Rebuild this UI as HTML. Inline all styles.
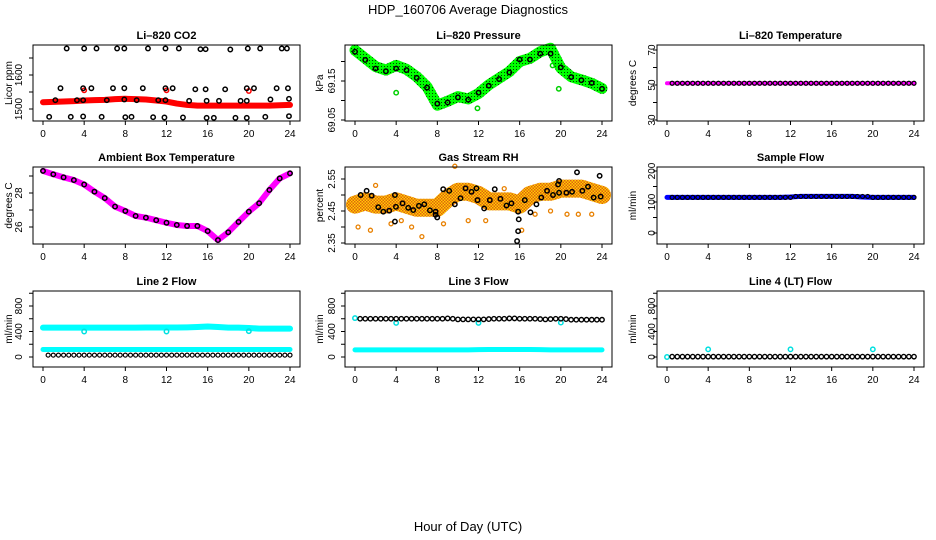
<!DOCTYPE html>
<html><head><meta charset="utf-8"><style>
body{margin:0;background:#fff}
svg{display:block;font-family:"Liberation Sans",sans-serif}
</style></head><body>
<svg id="c" width="936" height="540" viewBox="0 0 936 540">
<defs>
<pattern id="rhpat" width="3" height="3" patternUnits="userSpaceOnUse"><rect width="3" height="3" fill="#ffd000"/><rect width="1.5" height="1.5" fill="#e06010"/><rect x="1.5" y="1.5" width="1.5" height="1.5" fill="#e06010"/></pattern>
<pattern id="prpat" width="3" height="3" patternUnits="userSpaceOnUse"><rect width="3" height="3" fill="#00ff00"/><rect width="1" height="1" fill="#004000"/></pattern>
</defs>
<text x="468" y="14" text-anchor="middle" font-size="13">HDP_160706  Average Diagnostics</text>
<text x="468" y="531" text-anchor="middle" font-size="13">Hour of Day (UTC)</text>
</svg>
<script>
const hours = [0,1,2,3,4,5,6,7,8,9,10,11,12,13,14,15,16,17,18,19,20,21,22,23,24];
const halfH = [0.5,1,1.5,2,2.5,3,3.5,4,4.5,5,5.5,6,6.5,7,7.5,8,8.5,9,9.5,10,10.5,11,11.5,12,12.5,13,13.5,14,14.5,15,15.5,16,16.5,17,17.5,18,18.5,19,19.5,20,20.5,21,21.5,22,22.5,23,23.5,24];
const xTicks = [0,4,8,12,16,20,24];
// CO2
const co2Band = [1520,1521,1522,1523,1525,1526,1527,1529,1530,1529,1528,1525,1522,1516,1512,1510,1510,1510,1510,1510,1510,1510,1510,1511,1512];
const co2CircH = [2.3,4.0,5.2,7.2,7.9,10.2,11.9,13.2,15.3,15.8,18.2,19.9,21.1,23.2,23.7, 1.7,3.9,4.7,6.8,7.9,9.7,11.9,12.6,14.8,15.8,17.7,19.8,20.5,22.7,23.8, 1.2,3.3,3.9,6.2,7.9,9.1,11.2,11.9,14.2,15.9,17.1,19.2,19.8,22.1,23.9, 0.6,2.7,3.9,5.7,8.0,8.6,10.7,11.8,13.6,15.9,16.6,18.7,19.8,21.6,23.9];
const co2CircV = [1678,1678,1678,1678,1678,1678,1678,1678,1676,1676,1675,1678,1678,1678,1678, 1561,1561,1561,1561,1561,1561,1561,1561,1558,1558,1558,1561,1561,1561,1561, 1526,1526,1526,1526,1528,1526,1526,1526,1524,1524,1524,1524,1524,1528,1530, 1477,1477,1478,1477,1476,1477,1476,1475,1475,1474,1474,1474,1474,1477,1479];
const co2RedH = [4,12,20];
const co2RedV = [1555,1555,1553];
// Pressure
const presBand = [69.229,69.208,69.187,69.178,69.19,69.18,69.161,69.135,69.088,69.098,69.11,69.104,69.118,69.14,69.157,69.174,69.2,69.208,69.225,69.234,69.183,69.161,69.153,69.144,69.131];
const presCirc = [69.225,69.204,69.182,69.175,69.182,69.178,69.158,69.133,69.092,69.095,69.108,69.102,69.12,69.138,69.155,69.172,69.205,69.205,69.22,69.22,69.185,69.16,69.152,69.145,69.13];
const presOutH = [4.0,11.9,19.8,19.2];
const presOutV = [69.12,69.08,69.13,69.19];
// Li-820 temp
const tempBand = [51,51,51,51,51,51,51,51,51,51,51,51,51,51,51,51,51,51,51,51,51,51,51,51,51];
const tempCirc = [51,51,51,51,51,51,51,51,51,51,51,51,51,51,51,51,51,51,51,51,51,51,51,51,51,51,51,51,51,51,51,51,51,51,51,51,51,51,51,51,51,51,51,51,51,51,51,51];
// Ambient
const ambBand = [29.3,29.1,28.92,28.76,28.5,28.08,27.7,27.2,26.94,26.65,26.55,26.4,26.25,26.12,26.06,26.06,25.76,25.23,25.69,26.3,26.9,27.4,28.18,28.86,29.16];
// RH
const rhBand = [2.47,2.48,2.47,2.47,2.48,2.47,2.46,2.46,2.46,2.49,2.51,2.51,2.50,2.48,2.48,2.48,2.47,2.50,2.51,2.51,2.52,2.52,2.52,2.51,2.50];
const rhCircH = [0.55,1.13,1.62,2.26,2.75,3.33,3.88,3.88,3.98,4.62,5.17,5.66,6.21,6.73,7.28,7.83,7.83,7.99,8.57,9.15,9.7,10.25,10.74,11.32,11.8,11.9,12.55,13.1,13.58,14.13,14.72,15.2,15.85,15.91,15.85,15.75,16.5,17.05,17.63,18.1,18.66,19.24,19.73,19.83,19.83,20.54,21.09,21.57,22.09,22.64,23.19,23.77,23.87];
const rhCircV = [2.50,2.513,2.498,2.462,2.448,2.451,2.50,2.417,2.463,2.474,2.46,2.453,2.466,2.471,2.452,2.448,2.438,2.43,2.518,2.513,2.471,2.49,2.521,2.51,2.521,2.484,2.458,2.484,2.518,2.488,2.467,2.474,2.448,2.424,2.387,2.356,2.484,2.446,2.471,2.492,2.513,2.50,2.533,2.544,2.507,2.507,2.51,2.571,2.513,2.526,2.492,2.56,2.495];
const rhOutH = [0.3,1.5,3.5,4.5,6.5,9.7,11.0,12.7,14.5,16.2,17.5,19.0,20.6,21.7,23.0,2.0,5.5,8.6];
const rhOutV = [2.40,2.39,2.41,2.42,2.37,2.59,2.42,2.42,2.52,2.39,2.44,2.45,2.44,2.44,2.44,2.53,2.40,2.41];
// Sample flow
const sfBand = [115,115,115,115,115,115,115,115,115,115,115,115,116,118,118,118,118,118,118,116,115,115,115,115,115];
const sfCirc = [115,115,115,115,115,115,115,115,115,115,115,115,115,115,115,115,115,115,115,115,115,115,115,115,118,118,118,118,118,118,118,118,118,118,118,118,118,118,118,115,115,115,115,115,115,115,115,115];
// Line 2
const l2Hi = [460,460,460,460,460,460,460,460,460,460,462,462,462,462,465,470,478,470,460,460,455,445,445,445,445];
const l2Lo = [118,118,118,118,118,118,118,118,118,118,118,118,118,118,118,118,118,118,118,118,118,118,118,118,118];
const l2Black = [30,30,30,30,30,30,30,30,30,30,30,30,30,30,30,30,30,30,30,30,30,30,30,30,30,30,30,30,30,30,30,30,30,30,30,30,30,30,30,30,30,30,30,30,30,30,30,30];
const l2CyanH = [4,12,20];
const l2CyanV = [400,400,405];
// Line 3
const l3Lo = [112,112,112,112,112,112,112,112,112,112,112,112,115,118,118,118,118,118,115,112,112,112,112,112,112];
const l3Black = [600,600,600,600,600,600,600,600,600,600,600,600,600,600,600,600,600,605,600,590,590,590,590,590,590,595,600,600,600,605,605,600,600,600,600,595,590,595,600,600,595,585,585,585,585,585,585,585];
const l3CyanH = [0,4,12,20];
const l3CyanV = [610,535,535,540];
// Line 4
const l4Black = [5,5,5,5,5,5,5,5,5,5,5,5,5,5,5,5,5,5,5,5,5,5,5,5,5,5,5,5,5,5,5,5,5,5,5,5,5,5,5,5,5,5,5,5,5,5,5,5];
const l4CyanH = [0,4,12,20];
const l4CyanV = [0,120,120,120];

const NS = "http://www.w3.org/2000/svg";
const svg = document.getElementById('c');
const cols = [{x0:33,x1:300,h0:43,h1:290,lab:18,tt:9},{x0:345,x1:612,h0:355,h1:602,lab:331,tt:320},{x0:657,x1:924,h0:667,h1:914,lab:651,tt:633}];
const rows = [{t:45,b:121},{t:167,b:244},{t:291,b:367}];
function mk(tag, attrs, parent){const e=document.createElementNS(NS,tag);for(const k in attrs)e.setAttribute(k,attrs[k]);(parent||svg).appendChild(e);return e;}

function panel(ci, ri, name, title, ytitle, vA, yA, vB, yB, ticks, labels){
  const c=cols[ci], r=rows[ri];
  const g=mk('g',{});
  
  
  const xs=h=>c.h0+(h/24)*(c.h1-c.h0);
  const ys=v=>yA+(v-vA)*(yB-yA)/(vB-vA);
  const t=mk('text',{x:(c.x0+c.x1)/2,y:r.t-6,'text-anchor':'middle','font-size':11,'font-weight':'bold'},g);
  t.textContent=title;
  
  
  const plot=mk('g',{},g);
  
  
  const box=mk('rect',{x:c.x0,y:r.t,width:c.x1-c.x0,height:r.b-r.t,fill:'none',stroke:'#000','stroke-width':1},g);
  
  
  const xa=mk('g',{},g);
  
  
  mk('line',{x1:c.h0,x2:c.h1,y1:r.b,y2:r.b,stroke:'#000'},xa);
  xTicks.forEach(h=>{
    mk('line',{x1:xs(h),x2:xs(h),y1:r.b,y2:r.b+4,stroke:'#000'},xa);
    const tl=mk('text',{x:xs(h),y:r.b+16,'text-anchor':'middle','font-size':10},xa);
    tl.textContent=h;
    
    
  });
  const ya=mk('g',{},g);
  
  
  mk('line',{x1:c.x0,x2:c.x0,y1:ys(ticks[0]),y2:ys(ticks[ticks.length-1]),stroke:'#000'},ya);
  ticks.forEach(v=>mk('line',{x1:c.x0-4,x2:c.x0,y1:ys(v),y2:ys(v),stroke:'#000'},ya));
  labels.forEach(v=>{
    const tl=mk('text',{x:0,y:0,'text-anchor':'middle','font-size':10,transform:`translate(${c.lab+4},${ys(v)}) rotate(-90)`},ya);
    tl.textContent=v;
    
    
  });
  const yt=mk('text',{x:0,y:0,'text-anchor':'middle','font-size':10,transform:`translate(${c.tt+3},${(r.t+r.b)/2}) rotate(-90)`},g);
  yt.textContent=ytitle;
  
  
  return {plot,xs,ys};
}
function band(p, hs, vs, color, w, name){
  const pl=mk('polyline',{points:hs.map((h,i)=>p.xs(h)+','+p.ys(vs[i])).join(' '),fill:'none',stroke:color,'stroke-width':w,'stroke-linejoin':'round','stroke-linecap':'round'},p.plot);
  
  
}
function circles(p, hs, vs, color, name, r, sw){
  hs.forEach((h,i)=>{
    const c=mk('circle',{cx:p.xs(h),cy:p.ys(vs[i]),r:r||2.2,fill:'none',stroke:color,'stroke-width':sw||1.5},p.plot);
    
    
  });
}

// Panel 1
let p=panel(0,0,'li820-co2','Li\u2013820 CO2','Licor ppm',1500,109,1600,75,[1500,1550,1600,1650],[1500,1600]);
band(p,hours,co2Band,'#ff0000',6,'co2-band');
circles(p,co2RedH,co2RedV,'#ff0000','co2-red-point');
circles(p,co2CircH,co2CircV,'#000','co2-point');
// Panel 2
p=panel(1,0,'li820-pressure','Li\u2013820 Pressure','kPa',69.05,120,69.15,81,[69.05,69.10,69.15,69.20],['69.05','69.15']);
band(p,hours,presBand,'url(#prpat)',11,'pressure-band');
circles(p,presOutH,presOutV,'#00d000','pressure-outlier');
circles(p,hours,presCirc,'#000','pressure-point');
// Panel 3
p=panel(2,0,'li820-temperature','Li\u2013820 Temperature','degrees C',30,120,70,50,[30,40,50,60,70],[30,50,70]);
band(p,hours,tempBand,'#ff00ff',4,'temperature-band');
circles(p,halfH,tempCirc,'#000','temperature-point',2,1.2);
// Panel 4
p=panel(0,1,'ambient-box-temperature','Ambient Box Temperature','degrees C',26,227,28,193,[26,27,28,29],[26,28]);
band(p,hours,ambBand,'#ff00ff',6,'ambient-band');
circles(p,hours,ambBand,'#000','ambient-point');
// Panel 5
p=panel(1,1,'gas-stream-rh','Gas Stream RH','percent',2.35,243,2.55,179,[2.35,2.40,2.45,2.50,2.55],['2.35','2.45','2.55']);
band(p,hours,rhBand,'url(#rhpat)',18,'rh-band');
circles(p,rhOutH,rhOutV,'#e88000','rh-outlier',2,1.3);
circles(p,rhCircH,rhCircV,'#000','rh-point');
// Panel 6
p=panel(2,1,'sample-flow','Sample Flow','ml/min',0,233,200,171,[0,50,100,150,200],[0,100,200]);
band(p,hours,sfBand,'#0000ff',5,'sample-flow-band');
circles(p,halfH,sfCirc,'#000','sample-flow-point',2,1.2);
// Panel 7
p=panel(0,2,'line2-flow','Line 2 Flow','ml/min',0,357,800,306,[0,200,400,600,800,1000],[0,400,800]);
band(p,hours,l2Hi,'#00ffff',6,'line2-upper-band');
band(p,hours,l2Lo,'#00ffff',5,'line2-lower-band');
circles(p,l2CyanH,l2CyanV,'#00e0e0','line2-cyan-point');
circles(p,halfH,l2Black,'#000','line2-point',2,1.2);
// Panel 8
p=panel(1,2,'line3-flow','Line 3 Flow','ml/min',0,357,800,306,[0,200,400,600,800,1000],[0,400,800]);
band(p,hours,l3Lo,'#00ffff',5,'line3-lower-band');
circles(p,l3CyanH,l3CyanV,'#00e0e0','line3-cyan-point');
circles(p,halfH,l3Black,'#000','line3-point',2.2,1.4);
// Panel 9
p=panel(2,2,'line4-flow','Line 4 (LT) Flow','ml/min',0,357,800,306,[0,200,400,600,800,1000],[0,400,800]);
circles(p,l4CyanH,l4CyanV,'#00e0e0','line4-cyan-point');
circles(p,halfH,l4Black,'#000','line4-point',2.2,1.4);
</script>
</body></html>
